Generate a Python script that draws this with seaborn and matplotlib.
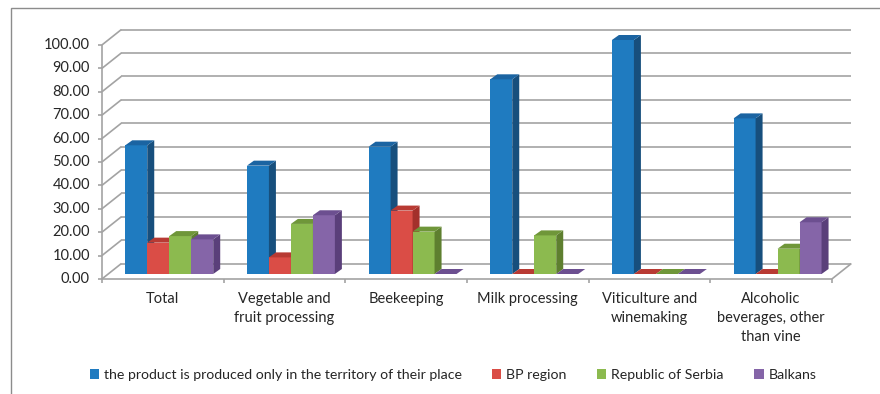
import numpy as np
import pandas as pd
import matplotlib
matplotlib.use("Agg")
import matplotlib.pyplot as plt
from matplotlib.patches import Polygon, Rectangle
import seaborn as sns

# ---- data -------------------------------------------------------------
categories = [
    "Total",
    "Vegetable and\nfruit processing",
    "Beekeeping",
    "Milk processing",
    "Viticulture and\nwinemaking",
    "Alcoholic\nbeverages, other\nthan vine",
]
series = [
    "the product is produced only in the territory of their place",
    "BP region",
    "Republic of Serbia",
    "Balkans",
]
local_only = [55.0, 46.3, 54.4, 83.2, 100.0, 66.5]
bp_region = [13.4, 7.1, 27.1, 0.0, 0.0, 0.0]
serbia = [16.2, 21.4, 18.1, 16.5, 0.0, 10.8]
balkans = [14.8, 25.1, 0.0, 0.0, 0.0, 22.1]
y_ticks = list(range(0, 101, 10))

front_colors = ["#1F7BC0", "#DA4D46", "#8CBA4F", "#8565A8"]
side_colors = ["#174F7D", "#A3302B", "#5E7F2F", "#5A3F7A"]
top_colors = ["#1B64A2", "#B83A33", "#6F9639", "#6C4F90"]

df = pd.DataFrame({
    "category": categories * 4,
    "series": [s for s in series for _ in categories],
    "value": local_only + bp_region + serbia + balkans,
})

# ---- figure -----------------------------------------------------------
DPI = 100
W, H = 880, 394
sns.set_theme(style="white")
plt.rcParams["font.family"] = ["Lato", "DejaVu Sans"]
TEXT = "#262626"
GRID = "#a3a3a3"

fig = plt.figure(figsize=(W / DPI, H / DPI), dpi=DPI)
# axes = the plane in which the bar fronts stand
ax = fig.add_axes([108.4 / W, (H - 274) / H, 730 / W, 234 / H])
ax.patch.set_visible(False)

sns.barplot(data=df, x="category", y="value", hue="series",
            order=categories, hue_order=series, palette=front_colors,
            saturation=1, width=0.723, gap=0, linewidth=0, ax=ax)

ax.set_xlim(-0.5, len(categories) - 0.5)
ax.set_ylim(0, 100)
for s in ax.spines.values():
    s.set_visible(False)
ax.set_xticks([])
ax.set_yticks([])
ax.set_xlabel("")
ax.set_ylabel("")

handles, labels = ax.get_legend_handles_labels()
if ax.legend_ is not None:
    ax.legend_.remove()

FRONT = (-6.5, -5.0)   # pixel shift of the front (axis) plane
BACK = (13.0, 10.5)    # pixel shift of the back wall
DEPTH = (7.0, 5.0)     # pixel depth of each bar


def at(x, y, dx=0.0, dy=0.0):
    """Data point (x, y) moved by (dx, dy) display pixels, back in data units."""
    p = ax.transData.transform((x, y)) + np.array([dx, dy])
    return ax.transData.inverted().transform(p)


def seg(p, q, **kw):
    ax.plot([p[0], q[0]], [p[1], q[1]], clip_on=False, solid_capstyle="butt", **kw)


x_lo, x_hi = -0.5, len(categories) - 0.5
gkw = dict(color=GRID, lw=1.2, zorder=0.5)

# back wall gridlines and left wall diagonals
for v in y_ticks:
    seg(at(x_lo, v, *BACK), at(x_hi, v, *BACK), **gkw)
    seg(at(x_lo, v, *FRONT), at(x_lo, v, *BACK), **gkw)
# floor edges
seg(at(x_lo, 0, *FRONT), at(x_hi, 0, *FRONT), **gkw)
seg(at(x_hi, 0, *FRONT), at(x_hi, 0, *BACK), **gkw)
# vertical value axis
seg(at(x_lo, 0, *FRONT), at(x_lo, 100, *FRONT), **gkw)

# tick marks and labels
for v in y_ticks:
    seg(at(x_lo, v, *FRONT), at(x_lo, v, FRONT[0] - 4, FRONT[1]), **gkw)
    tx, ty = at(x_lo, v, FRONT[0] - 12, FRONT[1])
    ax.text(tx, ty, f"{v:.2f}", ha="right", va="center", fontsize=10.5,
            color=TEXT, clip_on=False)
for b in np.arange(x_lo, x_hi + 0.01, 1.0):
    seg(at(b, 0, *FRONT), at(b, 0, FRONT[0], FRONT[1] - 4), **gkw)
for i, c in enumerate(categories):
    tx, ty = at(i, 0, FRONT[0], FRONT[1] - 13)
    ax.text(tx, ty, c, ha="center", va="top", multialignment="center",
            fontsize=10.5, linespacing=1.45, color=TEXT, clip_on=False)

# give every bar its side and top faces
bars = []
for k, cont in enumerate(ax.containers):
    for rect in cont.patches:
        bars.append((rect.get_x(), k, rect))
bars.sort(key=lambda t: t[0])
for n, (_, k, rect) in enumerate(bars):
    x0, w, h = rect.get_x(), rect.get_width(), rect.get_height()
    x1 = x0 + w
    rect.set_zorder(2 + 3 * n)
    top = [at(x0, h), at(x1, h), at(x1, h, *DEPTH), at(x0, h, *DEPTH)]
    side = [at(x1, 0), at(x1, h), at(x1, h, *DEPTH), at(x1, 0, *DEPTH)]
    ax.add_patch(Polygon(side, closed=True, facecolor=side_colors[k],
                         edgecolor="none", zorder=3 + 3 * n, clip_on=False))
    ax.add_patch(Polygon(top, closed=True, facecolor=top_colors[k],
                         edgecolor="none", zorder=4 + 3 * n, clip_on=False))

fig.legend(handles, labels, loc="center", bbox_to_anchor=(453 / W, 19 / H),
           ncol=4, frameon=False, fontsize=10.2, handlelength=0.65,
           handleheight=0.65, handletextpad=0.35, columnspacing=2.15,
           labelcolor=TEXT)

# chart frame
fig.add_artist(Rectangle((11 / W, -0.05), 1.2, 1.05 - 8 / H, fill=False,
                         edgecolor="#8c8c8c", lw=1.0,
                         transform=fig.transFigure, clip_on=False))

fig.savefig("out.png", dpi=DPI, facecolor="white")
